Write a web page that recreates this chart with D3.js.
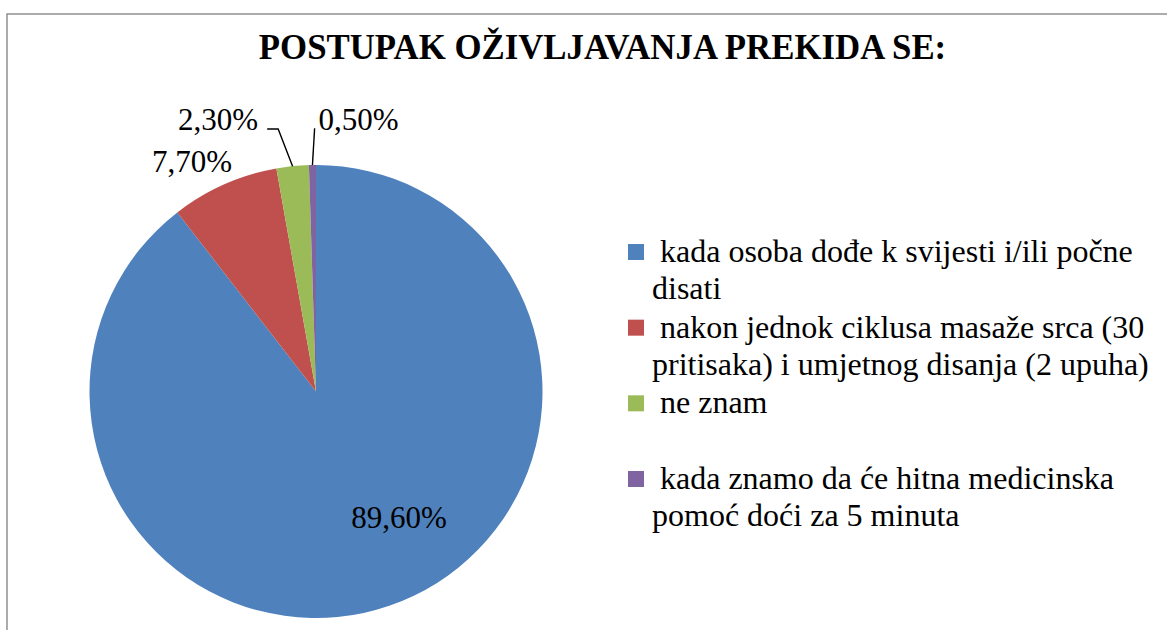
<!DOCTYPE html>
<html>
<head>
<meta charset="utf-8">
<script src="https://cdn.jsdelivr.net/npm/d3@7"></script>
<style>
  html, body { margin: 0; padding: 0; background: #fff; overflow: hidden; }
  svg { display: block; font-family: "Liberation Serif", "Times New Roman", serif; }
  .legend-text { white-space: pre; }
</style>
</head>
<body>
<div id="chart"></div>
<script>
// --- 1. Datos ---
const chartTitle = "POSTUPAK OŽIVLJAVANJA PREKIDA SE:";
const categories = [
    "kada osoba dođe k svijesti i/ili počne disati",
    "nakon jednok ciklusa masaže srca (30 pritisaka) i umjetnog disanja (2 upuha)",
    "ne znam",
    "kada znamo da će hitna medicinska pomoć doći za 5 minuta"
];
const values = [89.6, 7.7, 2.3, 0.5];
const valueLabels = ["89,60%", "7,70%", "2,30%", "0,50%"];

document.addEventListener('DOMContentLoaded', () => {

    const width = 1167;
    const height = 630;
    const cx = 316, cy = 391.5, radius = 226.5;
    const colors = ["#4F81BD", "#C0504D", "#9BBB59", "#8064A2"];

    // where each data label sits: angle (deg, clockwise from 12h) and radius ratio
    const labelLayout = [
        { angle: 146.6, r: 0.666 },
        { angle: 331.7, r: 1.154 },
        { angle: 340.2, r: 1.276 },
        { angle: 8.9, r: 1.216 }
    ];
    // leader lines for the small slices
    const leaderLayout = [
        null,
        null,
        { angle: 351.8, r: 1.171, tail: -11 },
        { angle: 359.7, r: 1.162, tail: 0 }
    ];

    const svg = d3.select("#chart").append("svg")
        .attr("width", width)
        .attr("height", height);

    // Marco del gráfico
    svg.append("rect")
        .attr("x", 7).attr("y", 14)
        .attr("width", width).attr("height", height)
        .attr("fill", "none")
        .attr("stroke", "#898989")
        .attr("stroke-width", 1.4);

    // Título
    svg.append("text")
        .attr("x", 602.5)
        .attr("y", 59)
        .attr("text-anchor", "middle")
        .style("font-weight", "bold")
        .style("font-size", "34.8px")
        .style("fill", "#000")
        .text(chartTitle);

    // --- 2. Pie ---
    const pie = d3.pie().sort(null).value(d => d);
    const arcs = pie(values);
    const arc = d3.arc().innerRadius(0).outerRadius(radius);
    const rad = d3.scaleLinear().domain([0, 360]).range([0, 2 * Math.PI]);

    const g = svg.append("g").attr("transform", `translate(${cx},${cy})`);

    g.selectAll(".slice")
        .data(arcs)
        .enter().append("path")
        .attr("class", "slice")
        .attr("d", arc)
        .attr("fill", (d, i) => colors[i]);

    // Líneas guía
    const leaders = arcs.map((d, i) => ({ d, l: leaderLayout[i] })).filter(o => o.l);
    g.selectAll(".leader")
        .data(leaders)
        .enter().append("polyline")
        .attr("class", "leader")
        .attr("fill", "none")
        .attr("stroke", "#000")
        .attr("stroke-width", 1.4)
        .attr("points", o => {
            const mid = (o.d.startAngle + o.d.endAngle) / 2;
            const p0 = d3.pointRadial(mid, radius);
            const p1 = d3.pointRadial(rad(o.l.angle), radius * o.l.r);
            const pts = [p0, p1];
            if (o.l.tail) pts.push([p1[0] + o.l.tail, p1[1]]);
            return pts.map(p => p.join(",")).join(" ");
        });

    // Etiquetas de valores
    g.selectAll(".value-label")
        .data(arcs)
        .enter().append("text")
        .attr("class", "value-label")
        .attr("transform", (d, i) => {
            const p = d3.pointRadial(rad(labelLayout[i].angle), radius * labelLayout[i].r);
            return `translate(${p[0]},${p[1]})`;
        })
        .attr("dy", "0.34em")
        .attr("text-anchor", "middle")
        .style("font-size", "31px")
        .style("fill", "#000")
        .text((d, i) => valueLabels[i]);

    // --- 3. Leyenda ---
    const legendY = d3.scalePoint()
        .domain(categories)
        .range([252, 479]);
    const fontSize = 32;
    const lineH = 37;
    const maxW = 505;

    const legend = svg.append("g").attr("class", "legend");

    // medir para partir el texto en líneas
    const probe = svg.append("text").attr("class", "legend-text").style("font-size", fontSize + "px");
    const wrap = (label) => {
        const words = label.split(" ");
        const lines = [];
        let cur = " " + words[0];
        for (let k = 1; k < words.length; k++) {
            const test = cur + " " + words[k];
            probe.text(test);
            if (probe.node().getComputedTextLength() > maxW) {
                lines.push(cur);
                cur = words[k];
            } else {
                cur = test;
            }
        }
        lines.push(cur);
        return lines;
    };

    categories.forEach((c, i) => {
        const y = legendY(c);
        legend.append("rect")
            .attr("x", 628)
            .attr("y", y - 8)
            .attr("width", 16)
            .attr("height", 16)
            .attr("fill", colors[i]);
        const t = legend.append("text")
            .attr("class", "legend-text")
            .attr("y", y + 10)
            .style("font-size", fontSize + "px")
            .style("fill", "#000");
        wrap(c).forEach((line, j) => {
            t.append("tspan")
                .attr("x", 652)
                .attr("y", y + 10 + j * lineH)
                .text(line);
        });
    });
    probe.remove();
});
</script>
</body>
</html>
